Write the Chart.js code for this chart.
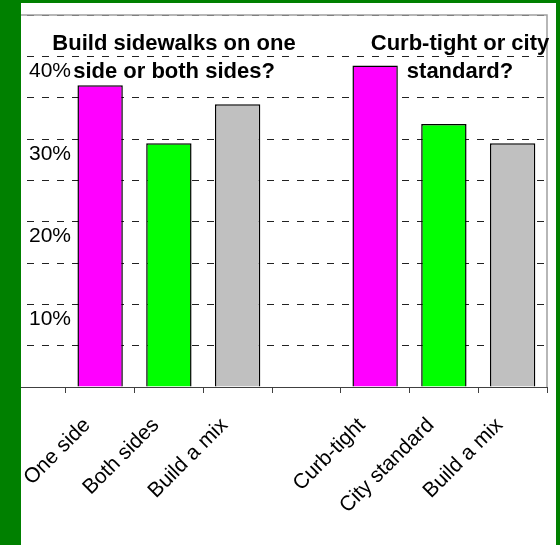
<!DOCTYPE html>
<html>
<head>
<meta charset="utf-8">
<script src="https://cdn.jsdelivr.net/npm/chart.js@4"></script>
<style>
  html, body { margin: 0; padding: 0; background: #008000; }
  #marco { position: absolute; left: 0; top: 0; width: 560px; height: 545px; background: #008000; overflow: hidden; }
  #hoja { position: absolute; left: 21px; top: 3px; width: 535px; height: 542px; background: #fff; overflow: hidden; }
  #lienzo { position: absolute; left: -24px; top: -3px; width: 559px; height: 545px; }
</style>
</head>
<body>
<div id="marco">
  <div id="hoja">
    <div id="lienzo"><canvas id="grafica"></canvas></div>
  </div>
</div>
<script>
// datos
const categorias = ['', 'One side', 'Both sides', 'Build a mix', '', 'Curb-tight', 'City standard', 'Build a mix'];
const porcentajes = [null, 36.5, 29.5, 34.2, null, 38.9, 31.8, 29.5];
const colores = ['#fff', '#ff00ff', '#00ff00', '#c0c0c0', '#fff', '#ff00ff', '#00ff00', '#c0c0c0'];
const marcasY = [10, 20, 30, 40];
const tituloIzq = ['Build sidewalks on one', 'side or both sides?'];
const tituloDer = ['Curb-tight or city', 'standard?'];

const fuente = 'Arial, "Liberation Sans", sans-serif';

// marco gris del area y los dos titulos
const extras = {
  id: 'extras',
  afterDraw(chart) {
    const ctx = chart.ctx;
    const area = chart.chartArea;
    ctx.save();
    ctx.strokeStyle = '#a0a0a0';
    ctx.lineWidth = 1.5;
    ctx.beginPath();
    ctx.moveTo(area.left, area.top);
    ctx.lineTo(area.right, area.top);
    ctx.lineTo(area.right, area.bottom);
    ctx.stroke();

    ctx.fillStyle = '#000';
    ctx.font = 'bold 22px ' + fuente;
    ctx.textAlign = 'center';
    ctx.textBaseline = 'alphabetic';
    tituloIzq.forEach((t, i) => ctx.fillText(t, 177, 50 + i * 28));
    tituloDer.forEach((t, i) => ctx.fillText(t, 463, 50 + i * 28));
    ctx.restore();
  }
};

new Chart(document.getElementById('grafica'), {
  type: 'bar',
  data: {
    labels: categorias,
    datasets: [{
      data: porcentajes,
      backgroundColor: colores,
      borderColor: '#000',
      borderWidth: 1.5,
      categoryPercentage: 1,
      barPercentage: 0.66
    }]
  },
  options: {
    responsive: true,
    maintainAspectRatio: false,
    animation: false,
    layout: { padding: { left: 0, right: 9, top: 15, bottom: 0 } },
    plugins: { legend: { display: false }, tooltip: { enabled: false } },
    scales: {
      x: {
        grid: { drawOnChartArea: false, drawTicks: true, tickLength: 6, color: '#404040', offset: true },
        border: { display: true, color: '#404040', width: 1 },
        ticks: {
          minRotation: 45, maxRotation: 45, autoSkip: false,
          color: '#000', font: { family: fuente, size: 21 }, padding: 20, labelOffset: -13
        },
        afterFit: (s) => { s.height = 158; }
      },
      y: {
        min: 0, max: 45,
        grid: { color: '#222', lineWidth: 1, drawTicks: false },
        border: { display: false, dash: [7, 8] },
        ticks: {
          stepSize: 5, mirror: true, padding: 32, labelOffset: 15,
          color: '#000', font: { family: fuente, size: 21 },
          callback: (v) => marcasY.includes(v) ? v + '%' : ''
        },
        afterFit: (s) => { s.width = 0; s.paddingTop = 0; s.paddingBottom = 0; }
      }
    }
  },
  plugins: [extras]
});
</script>
</body>
</html>
